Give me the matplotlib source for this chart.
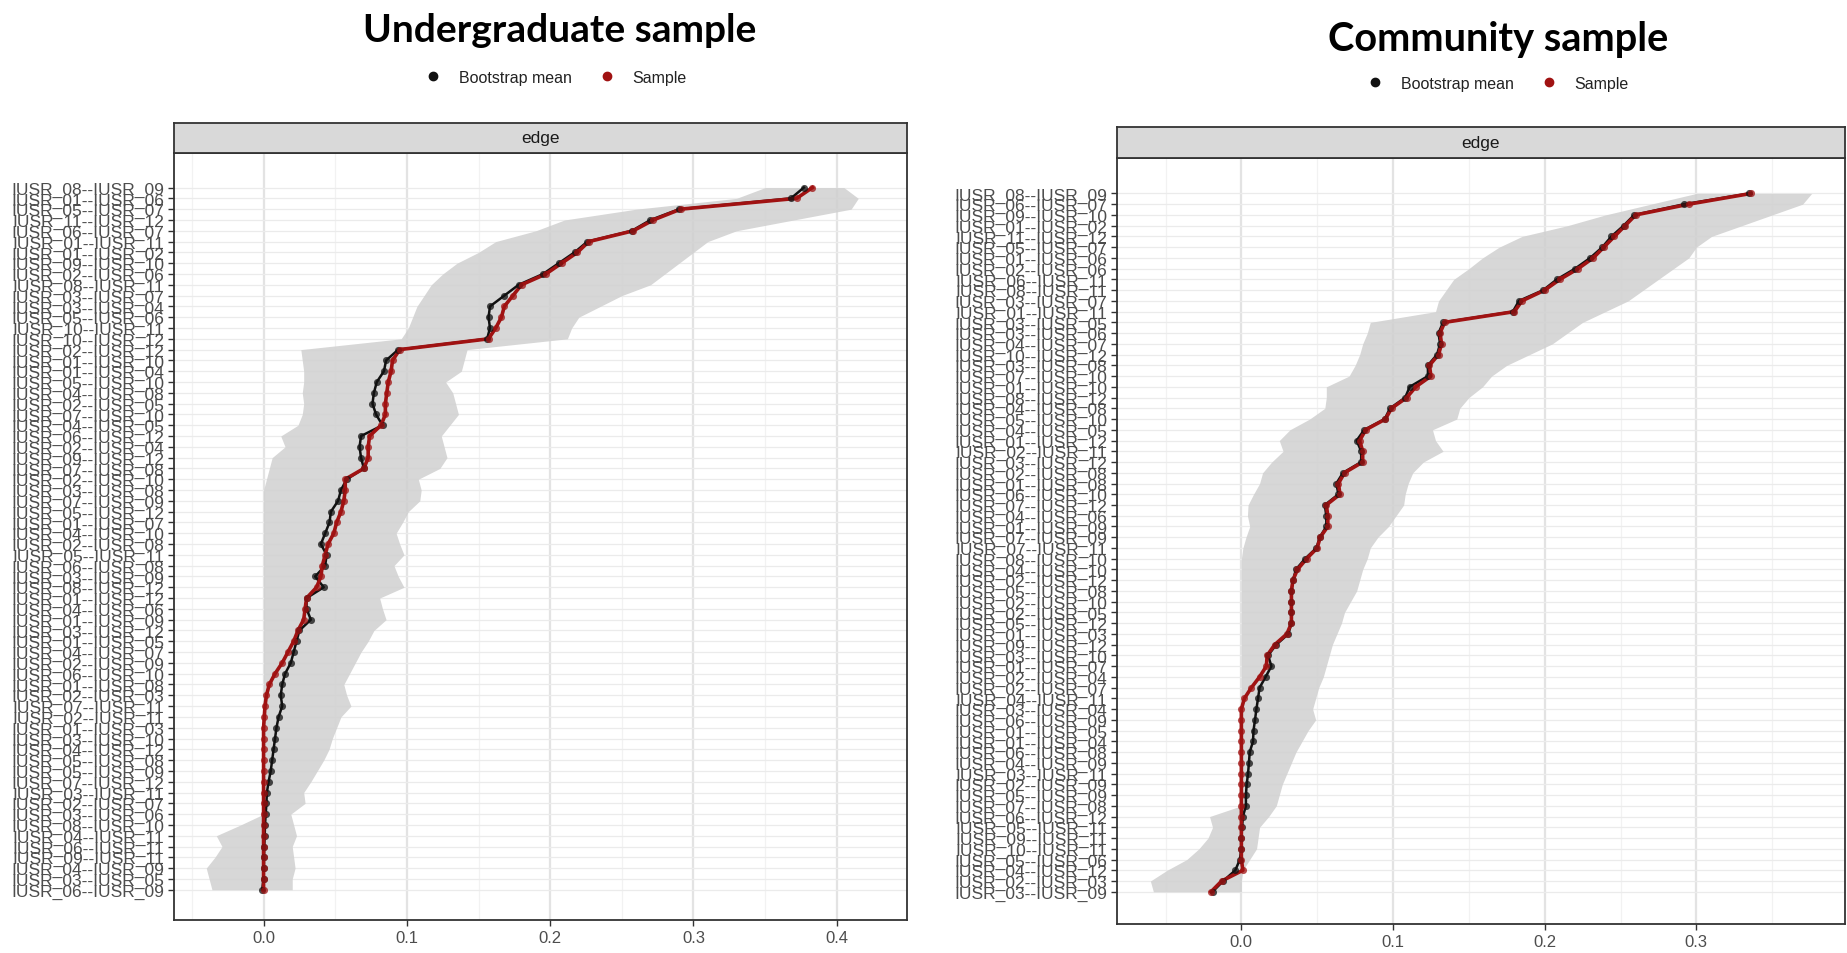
import matplotlib
matplotlib.use("Agg")
import matplotlib.pyplot as plt
from matplotlib.lines import Line2D
import numpy as np

# ---------------- data ----------------
ug_labels = ["IUSR_08--IUSR_09", "IUSR_01--IUSR_06", "IUSR_05--IUSR_07", "IUSR_11--IUSR_12", "IUSR_06--IUSR_07",
             "IUSR_01--IUSR_11", "IUSR_01--IUSR_02", "IUSR_09--IUSR_10", "IUSR_02--IUSR_06", "IUSR_08--IUSR_11",
             "IUSR_03--IUSR_07", "IUSR_03--IUSR_04", "IUSR_05--IUSR_06", "IUSR_10--IUSR_11", "IUSR_10--IUSR_12",
             "IUSR_02--IUSR_12", "IUSR_01--IUSR_10", "IUSR_01--IUSR_04", "IUSR_05--IUSR_10", "IUSR_04--IUSR_08",
             "IUSR_02--IUSR_05", "IUSR_07--IUSR_10", "IUSR_04--IUSR_05", "IUSR_06--IUSR_12", "IUSR_02--IUSR_04",
             "IUSR_09--IUSR_12", "IUSR_07--IUSR_08", "IUSR_02--IUSR_10", "IUSR_03--IUSR_08", "IUSR_07--IUSR_09",
             "IUSR_05--IUSR_12", "IUSR_01--IUSR_07", "IUSR_04--IUSR_10", "IUSR_02--IUSR_08", "IUSR_05--IUSR_11",
             "IUSR_06--IUSR_08", "IUSR_03--IUSR_09", "IUSR_08--IUSR_12", "IUSR_01--IUSR_12", "IUSR_04--IUSR_06",
             "IUSR_01--IUSR_09", "IUSR_03--IUSR_12", "IUSR_01--IUSR_05", "IUSR_04--IUSR_07", "IUSR_02--IUSR_09",
             "IUSR_06--IUSR_10", "IUSR_01--IUSR_08", "IUSR_02--IUSR_03", "IUSR_07--IUSR_11", "IUSR_02--IUSR_11",
             "IUSR_01--IUSR_03", "IUSR_03--IUSR_10", "IUSR_04--IUSR_12", "IUSR_05--IUSR_08", "IUSR_05--IUSR_09",
             "IUSR_07--IUSR_12", "IUSR_03--IUSR_11", "IUSR_02--IUSR_07", "IUSR_03--IUSR_06", "IUSR_08--IUSR_10",
             "IUSR_04--IUSR_11", "IUSR_06--IUSR_11", "IUSR_09--IUSR_11", "IUSR_04--IUSR_09", "IUSR_03--IUSR_05",
             "IUSR_06--IUSR_09"]
ug_boot = [0.377, 0.368, 0.290, 0.270, 0.257, 0.226, 0.217, 0.206, 0.195, 0.178,
           0.168, 0.158, 0.157, 0.158, 0.156, 0.094, 0.0855, 0.084, 0.079, 0.077,
           0.076, 0.0785, 0.083, 0.068, 0.067, 0.068, 0.070, 0.058, 0.054, 0.052,
           0.047, 0.046, 0.043, 0.040, 0.044, 0.043, 0.036, 0.042, 0.030, 0.030,
           0.033, 0.025, 0.023, 0.021, 0.019, 0.015, 0.013, 0.012, 0.013, 0.0105,
           0.009, 0.008, 0.007, 0.006, 0.005, 0.0035, 0.0023, 0.002, 0.0015, 0.001,
           0.0008, 0.0005, 0.0003, 0.0002, 0.0, -0.001]
ug_sample = [0.383, 0.372, 0.291, 0.272, 0.258, 0.227, 0.219, 0.208, 0.197, 0.180,
             0.174, 0.168, 0.166, 0.162, 0.157, 0.095, 0.090, 0.089, 0.087, 0.086,
             0.085, 0.085, 0.082, 0.074, 0.073, 0.073, 0.070, 0.057, 0.057, 0.056,
             0.054, 0.051, 0.049, 0.045, 0.043, 0.041, 0.040, 0.037, 0.030, 0.029,
             0.028, 0.024, 0.021, 0.017, 0.013, 0.008, 0.004, 0.002, 0.001, 0.0005,
             0.0, 0.0, 0.0, 0.0, 0.0, 0.0, 0.0, 0.0, 0.0, 0.0,
             0.0, 0.0, 0.0, 0.0, 0.0, 0.0]
ug_lower = [0.350, 0.330, 0.260, 0.210, 0.190, 0.162, 0.150, 0.135, 0.125, 0.117,
            0.112, 0.107, 0.104, 0.101, 0.096, 0.026, 0.027, 0.028, 0.028, 0.027,
            0.028, 0.027, 0.024, 0.012, 0.015, 0.006, 0.004, 0.002, 0.0, 0.0,
            0.0, 0.0, 0.0, 0.0, 0.0, 0.0, 0.0, 0.0, 0.0, 0.0,
            0.0, 0.0, 0.0, 0.0, 0.0, 0.0, 0.0, 0.0, 0.0, 0.0,
            0.0, 0.0, 0.0, 0.0, 0.0, 0.0, 0.0, 0.0, 0.0, -0.016,
            -0.033, -0.029, -0.034, -0.040, -0.038, -0.036]
ug_upper = [0.405, 0.415, 0.410, 0.370, 0.330, 0.310, 0.300, 0.290, 0.280, 0.270,
            0.250, 0.235, 0.220, 0.215, 0.212, 0.142, 0.140, 0.138, 0.127, 0.132,
            0.134, 0.136, 0.130, 0.124, 0.126, 0.128, 0.123, 0.108, 0.110, 0.109,
            0.101, 0.097, 0.0925, 0.095, 0.098, 0.091, 0.094, 0.098, 0.081, 0.083,
            0.0855, 0.077, 0.073, 0.068, 0.064, 0.060, 0.056, 0.058, 0.061, 0.054,
            0.051, 0.048, 0.0457, 0.042, 0.0375, 0.033, 0.028, 0.029, 0.019, 0.021,
            0.023, 0.020, 0.021, 0.022, 0.020, 0.020]

cs_labels = ["IUSR_08--IUSR_09", "IUSR_06--IUSR_07", "IUSR_09--IUSR_10", "IUSR_01--IUSR_02", "IUSR_11--IUSR_12",
             "IUSR_05--IUSR_07", "IUSR_01--IUSR_06", "IUSR_02--IUSR_06", "IUSR_06--IUSR_11", "IUSR_08--IUSR_11",
             "IUSR_03--IUSR_07", "IUSR_01--IUSR_11", "IUSR_03--IUSR_05", "IUSR_03--IUSR_06", "IUSR_04--IUSR_07",
             "IUSR_10--IUSR_12", "IUSR_03--IUSR_08", "IUSR_07--IUSR_10", "IUSR_01--IUSR_10", "IUSR_08--IUSR_12",
             "IUSR_04--IUSR_08", "IUSR_05--IUSR_10", "IUSR_04--IUSR_05", "IUSR_01--IUSR_12", "IUSR_02--IUSR_11",
             "IUSR_03--IUSR_12", "IUSR_02--IUSR_08", "IUSR_01--IUSR_08", "IUSR_06--IUSR_10", "IUSR_07--IUSR_12",
             "IUSR_04--IUSR_06", "IUSR_01--IUSR_09", "IUSR_07--IUSR_09", "IUSR_07--IUSR_11", "IUSR_08--IUSR_10",
             "IUSR_04--IUSR_10", "IUSR_02--IUSR_12", "IUSR_05--IUSR_08", "IUSR_02--IUSR_10", "IUSR_02--IUSR_05",
             "IUSR_05--IUSR_12", "IUSR_01--IUSR_03", "IUSR_09--IUSR_12", "IUSR_03--IUSR_10", "IUSR_01--IUSR_07",
             "IUSR_02--IUSR_04", "IUSR_02--IUSR_07", "IUSR_04--IUSR_11", "IUSR_03--IUSR_04", "IUSR_06--IUSR_09",
             "IUSR_01--IUSR_05", "IUSR_01--IUSR_04", "IUSR_06--IUSR_08", "IUSR_04--IUSR_09", "IUSR_03--IUSR_11",
             "IUSR_02--IUSR_09", "IUSR_05--IUSR_09", "IUSR_07--IUSR_08", "IUSR_06--IUSR_12", "IUSR_05--IUSR_11",
             "IUSR_09--IUSR_11", "IUSR_10--IUSR_11", "IUSR_05--IUSR_06", "IUSR_04--IUSR_12", "IUSR_02--IUSR_03",
             "IUSR_03--IUSR_09"]
cs_boot = [0.335, 0.292, 0.259, 0.252, 0.244, 0.238, 0.230, 0.220, 0.208, 0.199,
           0.183, 0.179, 0.133, 0.130, 0.131, 0.129, 0.123, 0.123, 0.111, 0.108,
           0.098, 0.0945, 0.081, 0.076, 0.079, 0.079, 0.067, 0.0626, 0.064, 0.055,
           0.056, 0.056, 0.0517, 0.0495, 0.042, 0.036, 0.034, 0.033, 0.033, 0.033,
           0.033, 0.031, 0.023, 0.0176, 0.0198, 0.016, 0.012, 0.011, 0.0099, 0.009,
           0.008, 0.0077, 0.0055, 0.005, 0.0044, 0.0035, 0.003, 0.003, 0.001, 0.0005,
           0.0, 0.0, -0.001, -0.004, -0.012, -0.019]
cs_sample = [0.336, 0.295, 0.260, 0.253, 0.246, 0.239, 0.232, 0.222, 0.210, 0.200,
             0.185, 0.180, 0.134, 0.131, 0.132, 0.130, 0.124, 0.125, 0.115, 0.109,
             0.099, 0.095, 0.082, 0.078, 0.080, 0.080, 0.068, 0.064, 0.065, 0.056,
             0.057, 0.057, 0.052, 0.050, 0.043, 0.037, 0.034, 0.033, 0.033, 0.033,
             0.033, 0.030, 0.022, 0.017, 0.0165, 0.012, 0.0066, 0.002, 0.0, 0.0,
             0.0, 0.0, 0.0, 0.0, 0.0, 0.0, 0.0, 0.0, 0.0, 0.0,
             0.0, 0.0, 0.0, 0.001, -0.013, -0.020]
cs_lower = [0.300, 0.270, 0.240, 0.215, 0.185, 0.170, 0.159, 0.150, 0.140, 0.135,
            0.130, 0.128, 0.085, 0.083, 0.080, 0.078, 0.075, 0.071, 0.056, 0.056,
            0.055, 0.045, 0.032, 0.025, 0.0275, 0.020, 0.014, 0.012, 0.008, 0.0044,
            0.004, 0.0055, 0.003, 0.001, 0.0, 0.0, 0.0, 0.0, 0.0, 0.0,
            0.0, 0.0, 0.0, 0.0, 0.0, 0.0, 0.0, 0.0, 0.0, 0.0,
            0.0, 0.0, 0.0, 0.0, 0.0, 0.0, 0.0, 0.0, -0.021, -0.019,
            -0.022, -0.028, -0.036, -0.049, -0.060, -0.058]
cs_upper = [0.376, 0.370, 0.350, 0.330, 0.310, 0.300, 0.295, 0.285, 0.275, 0.265,
            0.255, 0.240, 0.225, 0.215, 0.205, 0.190, 0.175, 0.165, 0.159, 0.150,
            0.144, 0.142, 0.126, 0.128, 0.133, 0.120, 0.113, 0.110, 0.108, 0.107,
            0.102, 0.097, 0.090, 0.085, 0.083, 0.080, 0.078, 0.076, 0.072, 0.068,
            0.066, 0.063, 0.060, 0.058, 0.056, 0.054, 0.051, 0.049, 0.047, 0.049,
            0.044, 0.040, 0.036, 0.033, 0.030, 0.027, 0.025, 0.023, 0.018, 0.012,
            0.011, 0.010, 0.0055, 0.001, 0.0, 0.0]

x_ticks = [0.0, 0.1, 0.2, 0.3, 0.4]
titles = ["Undergraduate sample", "Community sample"]
legend_labels = ["Bootstrap mean", "Sample"]

# ---------------- style ----------------
W, H = 1847, 954
fig = plt.figure(figsize=(W / 100, H / 100), dpi=100)
fig.patch.set_facecolor("white")

RED = "#A01212"
BLACK = "#111111"
GRID = "#EBEBEB"
TXT = "#4D4D4D"


def fx(px):
    return px / W


def fy(py):
    return 1 - py / H


def make_axes(x0, x1, strip_top, strip_bot, bottom):
    ax = fig.add_axes([fx(x0), fy(bottom), (x1 - x0) / W, (bottom - strip_bot) / H])
    st = fig.add_axes([fx(x0), fy(strip_bot), (x1 - x0) / W, (strip_bot - strip_top) / H])
    return ax, st


def draw_panel(ax, st, labels, boot, sample, lo, hi, xlim, ylim):
    n = len(labels)
    y = np.arange(n)[::-1]
    ax.fill_betweenx(y, lo, hi, color="#D0D0D0", alpha=0.85, lw=0, zorder=1)
    ax.plot(boot, y, color=BLACK, lw=1.8, zorder=3)
    ax.plot(sample, y, color=RED, lw=2.6, zorder=4)
    ax.scatter(boot, y, s=26, color=BLACK, alpha=0.75, lw=0, zorder=5)
    ax.scatter(sample, y, s=26, color=RED, alpha=0.75, lw=0, zorder=5)
    ax.set_xlim(*xlim)
    ax.set_ylim(*ylim)
    ax.set_yticks(y)
    ax.set_yticklabels(labels, fontsize=12.5, color=TXT, family="Liberation Sans")
    ax.set_xticks([t for t in x_ticks if xlim[0] <= t <= xlim[1]])
    ax.set_xticklabels([f"{t:.1f}" for t in x_ticks if xlim[0] <= t <= xlim[1]],
                       fontsize=12, color=TXT, family="Liberation Sans")
    minors = np.arange(-0.05, 0.46, 0.1)
    ax.set_xticks([m for m in minors if xlim[0] <= m <= xlim[1]], minor=True)
    ax.tick_params(axis="x", which="minor", length=0)
    ax.tick_params(axis="both", which="major", length=4, width=1.0, color="#333333", pad=3)
    ax.grid(True, which="major", axis="y", color=GRID, lw=0.9, zorder=0)
    ax.grid(True, which="major", axis="x", color="#E3E3E3", lw=1.6, zorder=0)
    ax.grid(True, which="minor", axis="x", color="#F2F2F2", lw=0.9, zorder=0)
    ax.set_axisbelow(True)
    for s in ax.spines.values():
        s.set_color("#333333")
        s.set_linewidth(1.3)
    st.set_facecolor("#D9D9D9")
    st.set_xticks([])
    st.set_yticks([])
    for s in st.spines.values():
        s.set_color("#333333")
        s.set_linewidth(1.3)
    st.text(0.5, 0.5, "edge", transform=st.transAxes, ha="center", va="center",
            fontsize=12.5, color="#1A1A1A", family="Liberation Sans")


axL, stL = make_axes(174, 907, 124, 154, 921)
draw_panel(axL, stL, ug_labels, ug_boot, ug_sample, ug_lower, ug_upper,
           (-0.0625, 0.449), (-2.8, 68.2))

axR, stR = make_axes(1117, 1845, 128, 159, 925)
draw_panel(axR, stR, cs_labels, cs_boot, cs_sample, cs_lower, cs_upper,
           (-0.082, 0.398), (-3.0, 68.3))

# titles, fitted to target widths
renderer = fig.canvas.get_renderer()
for txt, cx, cy, target in [(titles[0], 560, 30, 394), (titles[1], 1498, 40, 340)]:
    t = fig.text(fx(cx), fy(cy), txt, ha="center", va="center", fontsize=28,
                 fontweight="bold", family="Lato", color="black")
    w = t.get_window_extent(renderer).width
    t.set_fontsize(28 * target / w)

# legends
handles = [Line2D([], [], ls="none", marker="o", ms=6, color=BLACK),
           Line2D([], [], ls="none", marker="o", ms=6, color=RED)]
for cx, cy in [(552, 78), (1494, 84)]:
    fig.legend(handles, legend_labels, loc="center", bbox_to_anchor=(fx(cx), fy(cy)),
               ncol=2, frameon=False, handletextpad=0.6, columnspacing=1.2,
               prop={"family": "Liberation Sans", "size": 11.5}, labelcolor="#222222")

fig.savefig("out.png", dpi=100, facecolor="white")
